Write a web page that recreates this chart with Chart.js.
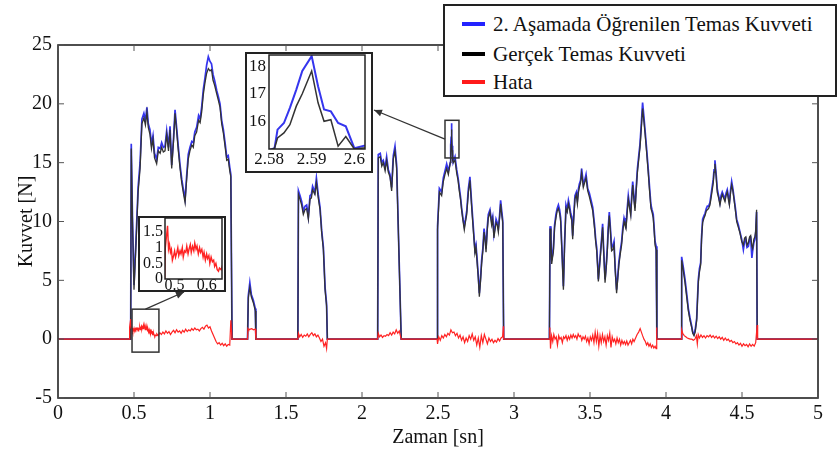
<!DOCTYPE html>
<html>
<head>
<meta charset="utf-8">
<script src="https://cdn.jsdelivr.net/npm/chart.js@4.4.1/dist/chart.umd.min.js"></script>
<style>
html,body{margin:0;padding:0;background:#fff;}
#wrap{position:relative;width:837px;height:452px;overflow:hidden;font-family:"Liberation Serif","Times New Roman",Times,"DejaVu Serif",serif;}
#ana{position:absolute;left:0;top:0;}
.kutu{position:absolute;background:#fff;border:2px solid #222;box-sizing:border-box;}
.ic{position:absolute;}
#lejant{position:absolute;left:443px;top:4px;width:394px;height:93px;border:2px solid #222;background:#fff;box-sizing:border-box;}
.satir{position:absolute;left:0;height:28px;line-height:28px;font-size:21px;color:#111;white-space:nowrap;}
.cizgi{position:absolute;left:17px;top:12px;width:23px;height:4px;}
.metin{position:absolute;left:48px;top:0;}
</style>
</head>
<body>
<div id="wrap">
  <canvas id="ana" width="837" height="452"></canvas>
  <div class="kutu" style="left:245px;top:52px;width:128px;height:121px;"></div>
  <canvas id="ic1" class="ic" width="130" height="128" style="left:245px;top:50px;"></canvas>
  <div class="kutu" style="left:138px;top:216px;width:88px;height:76px;"></div>
  <canvas id="ic2" class="ic" width="90" height="84" style="left:138px;top:214px;"></canvas>
  <div id="lejant">
    <div class="satir" style="top:4px;width:385px;"><div class="cizgi" style="background:#2323ff"></div><span class="metin">2. Aşamada Öğrenilen Temas Kuvveti</span></div>
    <div class="satir" style="top:34px;width:385px;"><div class="cizgi" style="background:#000"></div><span class="metin">Gerçek Temas Kuvveti</span></div>
    <div class="satir" style="top:62px;width:385px;"><div class="cizgi" style="background:#ff1a1a"></div><span class="metin">Hata</span></div>
  </div>
</div>
<script>
// ---- Veri: zaman [sn] ve kuvvet [N] ----
const zaman = [
  // segment 1
  0, 0.478, 0.482, 0.49, 0.50, 0.513, 0.527, 0.54, 0.552, 0.565,
  0.575, 0.585, 0.594, 0.605, 0.615, 0.625, 0.635, 0.649, 0.66, 0.672,
  0.682, 0.693, 0.704, 0.715, 0.727, 0.737, 0.748, 0.76, 0.77, 0.781,
  0.791, 0.803, 0.814, 0.825, 0.836, 0.846, 0.857, 0.868, 0.88, 0.89,
  0.9, 0.912, 0.925, 0.935, 0.945, 0.956, 0.967, 0.978, 0.989, 1.0,
  1.01, 1.02, 1.03, 1.045, 1.055, 1.066, 1.077, 1.088, 1.1, 1.11,
  1.12, 1.13, 1.137, 1.145,
  // segment 2
  1.247, 1.252, 1.262, 1.272, 1.285, 1.298, 1.302,
  // segment 3
  1.578, 1.582, 1.592, 1.603, 1.614, 1.625, 1.636, 1.647, 1.658, 1.667,
  1.675, 1.69, 1.70, 1.712, 1.724, 1.735, 1.746, 1.757, 1.767, 1.772,
  // segment 4
  2.103, 2.107, 2.12, 2.13, 2.14, 2.152, 2.162, 2.173, 2.184, 2.195,
  2.206, 2.217, 2.228, 2.258,
  // segment 5
  2.494, 2.497, 2.509, 2.524, 2.535, 2.546, 2.557, 2.568, 2.5813, 2.582,
  2.5835, 2.5849, 2.5864, 2.5878, 2.59, 2.5915, 2.5929, 2.5945, 2.5962, 2.598,
  2.6, 2.612, 2.623, 2.632, 2.64, 2.648, 2.656, 2.665, 2.673, 2.681,
  2.689, 2.70, 2.71, 2.721, 2.732, 2.743, 2.75, 2.758, 2.765, 2.772,
  2.78, 2.787, 2.795, 2.803, 2.81, 2.816, 2.824, 2.831, 2.842, 2.853,
  2.86, 2.868, 2.875, 2.882, 2.89, 2.897, 2.905, 2.912, 2.92, 2.926,
  2.932,
  // segment 6
  3.233, 3.237, 3.243, 3.248, 3.254, 3.259, 3.267, 3.276, 3.284, 3.292,
  3.3, 3.307, 3.315, 3.325, 3.333, 3.342, 3.35, 3.358, 3.366, 3.373,
  3.38, 3.386, 3.394, 3.401, 3.41, 3.417, 3.424, 3.43, 3.438, 3.445,
  3.45, 3.456, 3.465, 3.474, 3.485, 3.496, 3.507, 3.518, 3.53, 3.538,
  3.544, 3.55, 3.555, 3.563, 3.57, 3.578, 3.583, 3.59, 3.599, 3.607,
  3.614, 3.62, 3.627, 3.635, 3.642, 3.65, 3.658, 3.666, 3.675, 3.683,
  3.69, 3.7, 3.708, 3.716, 3.724, 3.73, 3.737, 3.745, 3.752, 3.76,
  3.768, 3.775, 3.781, 3.788, 3.796, 3.804, 3.812, 3.82, 3.829, 3.838,
  3.846, 3.854, 3.862, 3.873, 3.884, 3.893, 3.901, 3.908, 3.916, 3.922,
  3.928, 3.935, 3.94,
  // segment 7
  4.1, 4.103, 4.114, 4.125, 4.136, 4.147, 4.158, 4.169, 4.176, 4.184,
  4.192, 4.202, 4.208, 4.213, 4.22, 4.228, 4.234, 4.241, 4.25, 4.257,
  4.265, 4.272, 4.28, 4.289, 4.3, 4.311, 4.316, 4.322, 4.33, 4.337,
  4.346, 4.355, 4.362, 4.37, 4.379, 4.388, 4.395, 4.403, 4.41, 4.417,
  4.425, 4.432, 4.44, 4.447, 4.456, 4.465, 4.476, 4.487, 4.498, 4.509,
  4.517, 4.525, 4.533, 4.542, 4.55, 4.557, 4.565, 4.57, 4.578, 4.585,
  4.59, 4.596, 4.6, 5
];

const ogrenilen = [
  0, 0, 16.6, 10.3, 4.6, 8.4, 12.9, 15, 18.7, 19.2,
  18.6, 19.7, 18.3, 17.8, 16.6, 17.3, 15.8, 15.3, 16.3, 16.2,
  16.7, 16.3, 16.4, 17.7, 16.3, 18.1, 14.8, 17.1, 19.5, 17.9,
  16.4, 14.8, 13.6, 12.7, 11.9, 13.8, 15.7, 16.3, 16.8, 16.7,
  17.6, 18.0, 19.0, 18.7, 19.7, 21.2, 22.2, 23.3, 24.0, 23.6,
  23.4, 22.5, 22.0, 21.1, 20.6, 20.0, 18.6, 17.8, 16.6, 15.5,
  15.6, 14.6, 14.0, 0,
  0, 3.7, 4.8, 3.8, 3.3, 2.6, 0,
  0, 12.6, 12.2, 11.7, 10.9, 11.3, 11.4, 10.4, 12.2, 12.3,
  13.0, 12.5, 13.7, 12.3, 11.2, 9.2, 7.8, 4.4, 3.0, 0,
  0, 15.7, 15.8, 15.0, 15.2, 14.6, 15.5, 14.4, 14.0, 12.9,
  15.6, 16.4, 14.8, 0,
  0, 9.6, 12.8, 12.5, 13.7, 14.3, 14.9, 14.3, 15.03, 15.7,
  15.94, 16.49, 17.15, 17.82, 18.36, 17.27, 16.43, 16.36, 15.94, 15.82,
  15.03, 15.5, 14.4, 13.7, 12.9, 12.1, 11.1, 10.2, 9.6, 10.2,
  10.9, 12.8, 13.8, 11.6, 9.6, 7.6, 8.0, 6.7, 5.4, 3.9,
  5.2, 6.7, 7.7, 9.4, 8.6, 7.7, 9.5, 10.6, 11.0, 10.0,
  10.4, 8.9, 9.5, 10.2, 9.9, 9.4, 10.5, 11.8, 10.8, 10.1,
  0,
  0, 9.6, 8.8, 6.7, 7.2, 7.7, 9.7, 10.6, 11.1, 11.4,
  11.0, 10.3, 7.8, 4.5, 8.3, 11.4, 11.0, 11.8, 11.3, 10.7,
  10.4, 8.8, 10.7, 12.2, 12.5, 11.8, 12.8, 13.2, 13.5, 14.5,
  13.9, 13.2, 13.5, 14.0, 12.8, 12.4, 11.8, 11.2, 9.7, 8.4,
  7.8, 6.4, 5.1, 6.4, 7.6, 8.8, 9.8, 7.6, 5.1, 6.3,
  7.8, 9.5, 10.8, 9.3, 7.8, 7.9, 8.3, 6.0, 4.2, 5.4,
  6.6, 7.6, 8.3, 9.5, 10.3, 10.0, 9.7, 11.1, 12.2, 11.4,
  10.8, 12.3, 13.4, 12.3, 11.2, 12.9, 14.5, 15.5, 16.6, 18.4,
  20.1, 19.0, 17.8, 16.1, 14.3, 12.7, 11.4, 11.0, 10.6, 9.5,
  8.3, 7.9, 0,
  0, 7.0, 6.1, 5.1, 3.9, 2.6, 1.8, 1.1, 0.6, 0.4,
  0.8, 1.8, 3.7, 5.1, 6.0, 6.5, 8.7, 10.2, 10.5, 10.7,
  11.1, 11.3, 11.3, 11.6, 12.6, 13.6, 14.4, 15.2, 14.0, 12.8,
  12.2, 11.6, 12.2, 12.5, 12.2, 11.9, 12.4, 12.7, 12.2, 11.6,
  12.7, 13.4, 12.8, 12.1, 11.2, 10.2, 9.7, 9.1, 8.5, 7.6,
  8.3, 8.5, 7.8, 7.9, 8.5, 8.6, 6.9, 7.5, 8.2, 8.5,
  9.0, 10.8, 0, 0
];

const gercek = [
  0, 0, 16.2, 10, 4.2, 8, 12.5, 14.5, 18.3, 18.8,
  18.2, 19.3, 18.0, 17.4, 16.2, 17.0, 15.4, 14.9, 16.0, 15.8,
  16.3, 15.9, 16.0, 17.4, 16.0, 17.8, 14.5, 16.8, 19.2, 17.6,
  16.1, 14.5, 13.3, 12.4, 11.6, 13.5, 15.3, 16.0, 16.5, 16.3,
  17.3, 17.6, 18.6, 18.4, 19.3, 20.8, 21.8, 22.6, 23.0, 22.8,
  22.9, 22.0, 21.6, 20.8, 20.3, 19.7, 18.3, 17.5, 16.3, 15.2,
  15.3, 14.3, 13.8, 0,
  0, 3.5, 4.4, 3.6, 3.1, 2.4, 0,
  0, 12.3, 11.9, 11.4, 10.6, 11.0, 11.1, 10.2, 11.9, 12.0,
  12.7, 12.3, 13.3, 12.0, 11.0, 9.0, 7.6, 4.2, 2.8, 0,
  0, 15.4, 15.5, 14.7, 15.0, 14.3, 15.2, 14.2, 13.8, 12.6,
  15.3, 16.0, 14.5, 0,
  0, 9.3, 12.5, 12.2, 13.4, 14.0, 14.5, 14.0, 15.03, 15.4,
  15.58, 15.88, 16.55, 17.0, 17.82, 16.67, 16.0, 16.06, 15.1, 15.45,
  15.0, 15.2, 14.1, 13.5, 12.6, 11.9, 10.9, 10.0, 9.3, 10.0,
  10.6, 12.5, 13.5, 11.3, 9.3, 7.3, 7.8, 6.4, 5.2, 3.6,
  5.0, 6.4, 7.5, 9.1, 8.4, 7.4, 9.2, 10.3, 10.8, 9.7,
  10.2, 8.6, 9.3, 9.9, 9.7, 9.1, 10.3, 11.5, 10.5, 9.9,
  0,
  0, 9.4, 8.5, 6.4, 7.0, 7.4, 9.5, 10.3, 10.9, 11.1,
  10.7, 10.0, 7.5, 4.2, 8.0, 11.1, 10.8, 11.5, 11.0, 10.4,
  10.1, 8.5, 10.4, 11.9, 12.3, 11.5, 12.5, 12.9, 13.3, 14.1,
  13.6, 12.9, 13.3, 13.7, 12.6, 12.1, 11.5, 10.9, 9.4, 8.2,
  7.5, 6.2, 4.9, 6.2, 7.3, 8.6, 9.5, 7.4, 4.8, 6.1,
  7.5, 9.2, 10.5, 9.0, 7.5, 7.6, 8.0, 5.8, 3.9, 5.2,
  6.3, 7.3, 8.0, 9.2, 10.0, 9.7, 9.4, 10.8, 11.9, 11.2,
  10.5, 12.0, 13.1, 12.0, 10.9, 12.6, 14.2, 15.2, 16.3, 18.0,
  19.6, 18.6, 17.5, 15.8, 14.0, 12.4, 11.1, 10.8, 10.3, 9.2,
  8.0, 7.6, 0,
  0, 6.7, 5.8, 4.8, 3.6, 2.4, 1.6, 1.0, 0.5, 0.3,
  0.6, 1.6, 3.5, 4.9, 5.7, 6.3, 8.5, 9.9, 10.3, 10.5,
  10.9, 11.0, 11.1, 11.4, 12.3, 13.3, 14.2, 14.9, 13.8, 12.5,
  12.0, 11.4, 11.9, 12.3, 12.0, 11.7, 12.2, 12.5, 11.9, 11.4,
  12.5, 13.1, 12.6, 11.9, 11.0, 10.0, 9.5, 9.0, 8.3, 8.0,
  8.6, 8.7, 8.0, 8.2, 8.7, 8.8, 7.9, 7.7, 8.5, 8.7,
  9.2, 11.0, 0, 0
];

const hataZaman = [
  0, 0.469, 0.471, 0.478, 0.481, 0.484, 0.487, 0.49, 0.493, 0.497,
  0.5, 0.503, 0.507, 0.51, 0.513, 0.517, 0.52, 0.524, 0.527, 0.531,
  0.535, 0.538, 0.542, 0.545, 0.549, 0.552, 0.556, 0.56, 0.563, 0.567,
  0.57, 0.574, 0.578, 0.581, 0.585, 0.589, 0.592, 0.596, 0.6, 0.603,
  0.607, 0.61, 0.614, 0.618, 0.622, 0.625, 0.629, 0.633, 0.637, 0.64,
  0.645, 0.65, 0.66, 0.67, 0.68, 0.69, 0.70, 0.71, 0.72, 0.73,
  0.74, 0.75, 0.76, 0.77, 0.78, 0.79, 0.80, 0.81, 0.82, 0.83,
  0.84, 0.85, 0.86, 0.87, 0.88, 0.89, 0.9, 0.91, 0.92, 0.93,
  0.94, 0.95, 0.96, 0.97, 0.98, 0.99, 1.0, 1.01, 1.02, 1.03,
  1.04, 1.05, 1.06, 1.07, 1.08, 1.09, 1.1, 1.11, 1.12, 1.13,
  1.137, 1.145,
  1.247, 1.25, 1.255, 1.265, 1.275, 1.285, 1.298, 1.302,
  1.578, 1.582, 1.59, 1.6, 1.61, 1.62, 1.63, 1.64, 1.65, 1.66,
  1.67, 1.68, 1.69, 1.7, 1.71, 1.72, 1.73, 1.74, 1.75, 1.76,
  1.767, 1.772,
  2.103, 2.107, 2.115, 2.125, 2.135, 2.145, 2.155, 2.165, 2.175, 2.185,
  2.195, 2.205, 2.215, 2.225, 2.235, 2.245, 2.258,
  2.494, 2.497, 2.505, 2.515, 2.525, 2.535, 2.545, 2.555, 2.565, 2.575,
  2.585, 2.595, 2.605, 2.615, 2.625, 2.635, 2.645, 2.655, 2.665, 2.675,
  2.685, 2.695, 2.705, 2.715, 2.725, 2.735, 2.745, 2.755, 2.765, 2.775,
  2.785, 2.795, 2.805, 2.815, 2.825, 2.835, 2.845, 2.855, 2.865, 2.875,
  2.885, 2.895, 2.905, 2.915, 2.925, 2.93, 2.932,
  3.233, 3.236, 3.24, 3.247, 3.255, 3.262, 3.27, 3.278, 3.286, 3.294,
  3.302, 3.31, 3.318, 3.326, 3.334, 3.342, 3.35, 3.358, 3.366, 3.374,
  3.382, 3.39, 3.398, 3.406, 3.414, 3.422, 3.43, 3.438, 3.446, 3.454,
  3.462, 3.47, 3.478, 3.486, 3.494, 3.502, 3.51, 3.518, 3.526, 3.534,
  3.542, 3.55, 3.558, 3.566, 3.574, 3.582, 3.59, 3.598, 3.606, 3.614,
  3.622, 3.63, 3.638, 3.646, 3.654, 3.662, 3.67, 3.678, 3.686, 3.694,
  3.702, 3.71, 3.718, 3.726, 3.734, 3.742, 3.75, 3.758, 3.766, 3.774,
  3.782, 3.79, 3.8, 3.81, 3.82, 3.83, 3.838, 3.846, 3.855, 3.864,
  3.872, 3.88, 3.888, 3.896, 3.904, 3.912, 3.92, 3.928, 3.935, 3.938,
  3.94,
  4.1, 4.103, 4.11, 4.12, 4.13, 4.14, 4.15, 4.16, 4.17, 4.18,
  4.19, 4.2, 4.206, 4.212, 4.22, 4.23, 4.24, 4.25, 4.26, 4.27,
  4.28, 4.29, 4.3, 4.31, 4.32, 4.33, 4.34, 4.35, 4.36, 4.37,
  4.38, 4.39, 4.4, 4.41, 4.42, 4.43, 4.44, 4.45, 4.46, 4.47,
  4.48, 4.49, 4.5, 4.51, 4.52, 4.53, 4.54, 4.55, 4.56, 4.57,
  4.58, 4.59, 4.596, 4.6, 4.603, 5
];

const hata = [
  0, 0, 1.0, 1.7, 0.95, 1.1, 0.85, 0.95, 0.6, 0.75,
  0.9, 0.7, 0.85, 1.0, 0.75, 0.9, 0.8, 1.0, 0.7, 0.9,
  0.85, 1.05, 0.8, 0.95, 1.1, 0.85, 1.05, 0.9, 1.15, 0.95,
  1.05, 0.8, 1.0, 0.85, 0.95, 0.7, 0.85, 0.6, 0.8, 0.65,
  0.75, 0.5, 0.7, 0.55, 0.6, 0.4, 0.5, 0.3, 0.25, 0.35,
  0.3, 0.45, 0.3, 0.55, 0.4, 0.6, 0.45, 0.7, 0.5, 0.65,
  0.4, 0.6, 0.75, 0.55, 0.8, 0.6, 0.7, 0.5, 0.75, 0.6,
  0.85, 0.65, 0.8, 0.7, 0.9, 0.75, 0.95, 0.8, 0.85, 0.7,
  0.9, 1.0, 0.85, 1.1, 1.2, 0.95, 1.05, 0.7, 0.4, 0.1,
  -0.2, -0.4, -0.3, -0.5, -0.35, -0.55, -0.4, -0.6, -0.45, -0.5,
  1.6, 0,
  0, 0.9, 0.8, 0.85, 0.9, 0.8, 0.85, 0,
  0, 0.5, 0.2, 0.4, 0.15, 0.35, 0.25, 0.45, 0.2, 0.4,
  0.55, 0.3, 0.45, 0.2, 0.35, 0.1, -0.2, 0.0, -0.6, -0.3,
  -0.8, 0,
  0, 0.5, 0.2, 0.35, 0.15, 0.3, 0.25, 0.4, 0.3, 0.55,
  0.35, 0.6, 0.45, 0.8, 0.5, 0.7, 0,
  0, -0.4, 0.2, -0.1, 0.3, 0.1, 0.4, 0.2, 0.5, 0.35,
  0.8, 0.55, 0.6, 0.3, 0.5, 0.1, 0.35, -0.1, 0.2, -0.3,
  0.1, -0.2, 0.3, 0.0, 0.45, -0.1, 0.2, -0.5, 0.1, -0.7,
  0.3, -0.3, 0.4, 0.0, -0.4, 0.1, -0.2, 0.0, -0.3, -0.1,
  -0.25, 0.05, -0.15, 0.1, 0.2, 1.1, 0,
  0, 1.0, -0.8, 0.3, -0.2, 0.4, 0.0, 0.2, -0.5, 0.3,
  0.0, 0.15, -0.3, 0.2, 0.05, 0.3, -0.1, 0.25, 0.0, 0.35,
  0.1, 0.4, 0.15, 0.3, 0.0, 0.45, 0.2, 0.3, -0.1, 0.2,
  0.0, 0.25, -0.2, 0.1, -0.4, 0.2, -0.1, 0.35, -0.3, 0.6,
  -0.2, 0.5, -0.6, 0.3, -0.3, 0.4, -0.2, 0.2, -0.5, 0.3,
  -0.1, 0.5, -0.7, 0.2, -0.2, 0.0, -0.4, 0.1, -0.3, 0.0,
  -0.5, -0.1, -0.4, -0.2, -0.45, -0.15, -0.5, -0.3, -0.1, -0.4,
  0.0, -0.2, 0.1, 0.4, 0.6, 0.9, 0.6, 0.3, 0.0, -0.2,
  -0.5, -0.3, -0.6, -0.4, -0.7, -0.5, -0.75, -0.6, -0.8, 1.0,
  0,
  0, 0.8, 0.5, 0.3, 0.2, 0.1, 0.05, 0.0, 0.0, -0.1,
  0.0, 0.3, -0.4, 0.4, 0.1, 0.35, 0.15, 0.3, 0.1, 0.3,
  0.2, 0.35, 0.15, 0.3, 0.1, 0.25, 0.05, 0.2, 0.0, 0.15,
  -0.1, 0.1, -0.1, 0.0, -0.2, -0.1, -0.3, -0.2, -0.4, -0.3,
  -0.5, -0.35, -0.6, -0.4, -0.55, -0.45, -0.65, -0.4, -0.6, -0.45,
  -0.6, -0.3, 0.6, 1.2, 0, 0
];

// ---- Eksen işaretleri ----
const xTikleri = [0, 0.5, 1, 1.5, 2, 2.5, 3, 3.5, 4, 4.5, 5];
const yTikleri = [-5, 0, 5, 10, 15, 20, 25];
const ic1XTikleri = [2.58, 2.59, 2.6];
const ic1YTikleri = [16, 17, 18];
const ic2XTikleri = [0.5, 0.6];
const ic2YTikleri = [0, 0.5, 1, 1.5];

const etiketler = ['2. Aşamada Öğrenilen Temas Kuvveti', 'Gerçek Temas Kuvveti', 'Hata'];

// ---- Yakınlaştırma kutuları (veri koordinatlarında) ----
const kutu1 = {x1: 2.546, x2: 2.638, y1: 15.4, y2: 18.6};
const kutu2 = {x1: 0.487, x2: 0.664, y1: -1.1, y2: 2.55};

Chart.defaults.font.family = '"Liberation Serif", "Times New Roman", Times, "DejaVu Serif", serif';
Chart.defaults.color = '#111';

const MAVI = '#3535ee', SIYAH = '#333333', KIRMIZI = '#ff2222';

function noktalar(xs, ys) { return xs.map((t, i) => ({x: t, y: ys[i]})); }

function eksen(min, max, tikler, fontSize, pad, fitFn, extra) {
  return Object.assign({
    type: 'linear', min: min, max: max,
    grid: {display: false, drawTicks: false},
    border: {display: false},
    afterBuildTicks: s => { s.ticks = tikler.map(v => ({value: v})); },
    afterFit: fitFn,
    ticks: {font: {size: fontSize}, color: '#111', padding: pad, autoSkip: false, maxRotation: 0,
            callback: v => String(v)}
  }, extra || {});
}

function arrowHead(ctx, fx, fy, tx, ty) {
  const a = Math.atan2(ty - fy, tx - fx), L = 8, W = 3.5;
  ctx.beginPath();
  ctx.moveTo(tx, ty);
  ctx.lineTo(tx - L * Math.cos(a) + W * Math.sin(a), ty - L * Math.sin(a) - W * Math.cos(a));
  ctx.lineTo(tx - L * Math.cos(a) - W * Math.sin(a), ty - L * Math.sin(a) + W * Math.cos(a));
  ctx.closePath();
  ctx.fill();
}

const cerceve = {
  id: 'cerceve',
  afterDraw(chart, args, opts) {
    const {ctx, chartArea: a, scales} = chart;
    ctx.save();
    ctx.strokeStyle = '#222';
    ctx.lineWidth = opts.w || 1.5;
    ctx.strokeRect(a.left, a.top, a.right - a.left, a.bottom - a.top);
    if (opts.tik) {
      ctx.lineWidth = 1;
      ctx.strokeStyle = '#555';
      const L = 6;
      scales.x.ticks.forEach(t => {
        const px = scales.x.getPixelForValue(t.value);
        ctx.beginPath();
        ctx.moveTo(px, a.bottom); ctx.lineTo(px, a.bottom - L);
        ctx.moveTo(px, a.top); ctx.lineTo(px, a.top + L);
        ctx.stroke();
      });
      scales.y.ticks.forEach(t => {
        const py = scales.y.getPixelForValue(t.value);
        ctx.beginPath();
        ctx.moveTo(a.left, py); ctx.lineTo(a.left + L, py);
        ctx.moveTo(a.right, py); ctx.lineTo(a.right - L, py);
        ctx.stroke();
      });
    }
    if (opts.kutular) {
      const X = scales.x, Y = scales.y;
      ctx.strokeStyle = '#333';
      ctx.fillStyle = '#333';
      ctx.lineWidth = 1.5;
      const b1l = X.getPixelForValue(kutu1.x1), b1r = X.getPixelForValue(kutu1.x2);
      const b1t = Y.getPixelForValue(kutu1.y2), b1b = Y.getPixelForValue(kutu1.y1);
      ctx.strokeRect(b1l, b1t, b1r - b1l, b1b - b1t);
      const b2l = X.getPixelForValue(kutu2.x1), b2r = X.getPixelForValue(kutu2.x2);
      const b2t = Y.getPixelForValue(kutu2.y2), b2b = Y.getPixelForValue(kutu2.y1);
      ctx.strokeRect(b2l, b2t, b2r - b2l, b2b - b2t);
      const s1x = b1l, s1y = (b1t + b1b) / 2, e1x = 374, e1y = 110;
      ctx.lineWidth = 1.3;
      ctx.beginPath(); ctx.moveTo(s1x, s1y); ctx.lineTo(e1x, e1y); ctx.stroke();
      arrowHead(ctx, s1x, s1y, e1x, e1y);
      const s2x = (b2l + b2r) / 2, s2y = b2t, e2x = 184, e2y = 292;
      ctx.beginPath(); ctx.moveTo(s2x, s2y); ctx.lineTo(e2x, e2y); ctx.stroke();
      arrowHead(ctx, s2x, s2y, e2x, e2y);
    }
    ctx.restore();
  }
};

const ortak = {
  responsive: false, animation: false,
  elements: {point: {radius: 0, hoverRadius: 0}, line: {tension: 0}},
  events: []
};

// ---- Ana grafik ----
new Chart(document.getElementById('ana'), {
  type: 'line',
  data: {datasets: [
    {label: etiketler[0], data: noktalar(zaman, ogrenilen), borderColor: MAVI, borderWidth: 1.7, order: 2},
    {label: etiketler[1], data: noktalar(zaman, gercek), borderColor: SIYAH, borderWidth: 1.3, order: 1},
    {label: etiketler[2], data: noktalar(hataZaman, hata), borderColor: KIRMIZI, borderWidth: 1.2, order: 0}
  ]},
  options: Object.assign({}, ortak, {
    layout: {padding: {top: 45, right: 19, left: 0, bottom: 0}},
    plugins: {legend: {display: false}, tooltip: {enabled: false},
              cerceve: {tik: true, kutular: true, w: 1.6}},
    scales: {
      x: eksen(0, 5, xTikleri, 20, 4, s => { s.height = 54; },
        {title: {display: true, text: 'Zaman [sn]', font: {size: 20}, color: '#111', padding: {top: 0, bottom: 2}}}),
      y: eksen(-5, 25, yTikleri, 20, 6, s => { s.width = 58; s.paddingTop = 0; s.paddingBottom = 0; },
        {title: {display: true, text: 'Kuvvet [N]', font: {size: 20}, color: '#111', padding: {top: 15, bottom: 0}}})
    }
  }),
  plugins: [cerceve]
});

// ---- İç grafik 1 (2.58 - 2.6 sn) ----
new Chart(document.getElementById('ic1'), {
  type: 'line',
  data: {datasets: [
    {label: etiketler[0], data: noktalar(zaman, ogrenilen), borderColor: MAVI, borderWidth: 2, order: 1},
    {label: etiketler[1], data: noktalar(zaman, gercek), borderColor: SIYAH, borderWidth: 1.5, order: 0}
  ]},
  options: Object.assign({}, ortak, {
    layout: {padding: {top: 5, right: 10, left: 0, bottom: 0}},
    plugins: {legend: {display: false}, tooltip: {enabled: false}, cerceve: {w: 1.5}},
    scales: {
      x: eksen(2.58, 2.6025, ic1XTikleri, 17, 0, s => { s.height = 29; s.paddingLeft = 0; s.paddingRight = 0; }),
      y: eksen(15, 18.4, ic1YTikleri, 17, 3, s => { s.width = 24; s.paddingTop = 0; s.paddingBottom = 0; })
    }
  }),
  plugins: [cerceve]
});

// ---- İç grafik 2 (hata, 0.47 - 0.65 sn) ----
new Chart(document.getElementById('ic2'), {
  type: 'line',
  data: {datasets: [
    {label: etiketler[2], data: noktalar(hataZaman, hata), borderColor: KIRMIZI, borderWidth: 1.4}
  ]},
  options: Object.assign({}, ortak, {
    layout: {padding: {top: 4, right: 6, left: 0, bottom: 0}},
    plugins: {legend: {display: false}, tooltip: {enabled: false}, cerceve: {w: 1.5}},
    scales: {
      x: eksen(0.47, 0.648, ic2XTikleri, 16, -3, s => { s.height = 19; s.paddingLeft = 0; s.paddingRight = 0; }),
      y: eksen(0, 1.95, ic2YTikleri, 16, 2, s => { s.width = 27; s.paddingTop = 0; s.paddingBottom = 0; })
    }
  }),
  plugins: [cerceve]
});
</script>
</body>
</html>
